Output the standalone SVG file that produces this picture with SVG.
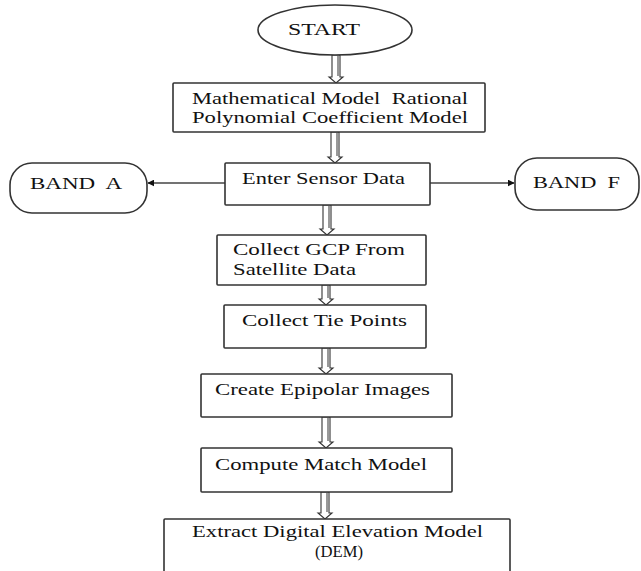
<svg xmlns="http://www.w3.org/2000/svg" width="641" height="571" viewBox="0 0 641 571">
<style>
.box{fill:#fff;stroke:#333;stroke-width:1.6}
.t{font-family:"Liberation Serif","Times New Roman",serif;font-size:17px;fill:#111}
.ha{fill:#fff;stroke:#333;stroke-width:1.1}
.sh{stroke:#999;stroke-width:2;fill:none}
.ln{stroke:#444;stroke-width:1.3;fill:none}
</style>
<defs>
<marker id="ah" viewBox="0 0 10 10" refX="9" refY="5" markerWidth="7" markerHeight="7" orient="auto" markerUnits="userSpaceOnUse">
<path d="M0,0 L10,5 L0,10 z" fill="#111"/>
</marker>
</defs>
<rect width="641" height="571" fill="#fff"/>
<g id="connectors">
<polygon class="ha" points="332,55 340,55 340,77 343,77 336,83 329,77 332,77"/>
<line class="sh" x1="338" y1="56" x2="338" y2="76"/>
<polygon class="ha" points="331,132 339,132 339,157 342,157 335,163 328,157 331,157"/>
<line class="sh" x1="337" y1="133" x2="337" y2="156"/>
<polygon class="ha" points="323,205 331,205 331,229 334,229 327,235 320,229 323,229"/>
<line class="sh" x1="329" y1="206" x2="329" y2="228"/>
<polygon class="ha" points="322,285 330,285 330,299 333,299 326,305 319,299 322,299"/>
<line class="sh" x1="328" y1="286" x2="328" y2="298"/>
<polygon class="ha" points="322,348 330,348 330,368 333,368 326,374 319,368 322,368"/>
<line class="sh" x1="328" y1="349" x2="328" y2="367"/>
<polygon class="ha" points="322,417 330,417 330,442 333,442 326,448 319,442 322,442"/>
<line class="sh" x1="328" y1="418" x2="328" y2="441"/>
<polygon class="ha" points="321,492 329,492 329,513 332,513 325,519 318,513 321,513"/>
<line class="sh" x1="327" y1="493" x2="327" y2="512"/>
<line class="ln" x1="225" y1="183" x2="148" y2="183" marker-end="url(#ah)"/>
<line class="ln" x1="430" y1="183" x2="514" y2="183" marker-end="url(#ah)"/>
</g>
<g id="start">
<ellipse cx="335" cy="30" rx="77" ry="25" class="box"/>
<text class="t" x="288" y="35" textLength="72" lengthAdjust="spacingAndGlyphs">START</text>
</g>
<g id="model">
<rect class="box" x="173" y="83" width="312" height="49" rx="1"/>
<text class="t" x="192" y="104" textLength="276" lengthAdjust="spacingAndGlyphs" xml:space="preserve">Mathematical Model  Rational</text>
<text class="t" x="192" y="123" textLength="276" lengthAdjust="spacingAndGlyphs">Polynomial Coefficient Model</text>
</g>
<g id="sensor">
<rect class="box" x="225" y="163" width="205" height="42" rx="1"/>
<text class="t" x="242" y="184" textLength="163" lengthAdjust="spacingAndGlyphs">Enter Sensor Data</text>
</g>
<g id="bandA">
<rect class="box" x="10" y="163" width="137" height="50" rx="22"/>
<text class="t" x="30" y="189" textLength="92" lengthAdjust="spacingAndGlyphs" xml:space="preserve">BAND  A</text>
</g>
<g id="bandF">
<rect class="box" x="515" y="158" width="124" height="52" rx="22"/>
<text class="t" x="533" y="188" textLength="87" lengthAdjust="spacingAndGlyphs" xml:space="preserve">BAND  F</text>
</g>
<g id="gcp">
<rect class="box" x="217" y="235" width="209" height="50" rx="1"/>
<text class="t" x="233" y="255" textLength="172" lengthAdjust="spacingAndGlyphs">Collect GCP From</text>
<text class="t" x="233" y="275" textLength="123" lengthAdjust="spacingAndGlyphs">Satellite Data</text>
</g>
<g id="tie">
<rect class="box" x="224" y="305" width="202" height="43" rx="1"/>
<text class="t" x="242" y="326" textLength="165" lengthAdjust="spacingAndGlyphs">Collect Tie Points</text>
</g>
<g id="epipolar">
<rect class="box" x="201" y="374" width="251" height="43" rx="1"/>
<text class="t" x="215" y="395" textLength="215" lengthAdjust="spacingAndGlyphs">Create Epipolar Images</text>
</g>
<g id="match">
<rect class="box" x="201" y="448" width="251" height="44" rx="1"/>
<text class="t" x="215" y="470" textLength="212" lengthAdjust="spacingAndGlyphs">Compute Match Model</text>
</g>
<g id="dem">
<rect class="box" x="164" y="519" width="346" height="70" rx="1"/>
<text class="t" x="192" y="537" textLength="291" lengthAdjust="spacingAndGlyphs">Extract Digital Elevation Model</text>
<text class="t" x="315" y="557" textLength="48" lengthAdjust="spacingAndGlyphs">(DEM)</text>
</g>
</svg>
